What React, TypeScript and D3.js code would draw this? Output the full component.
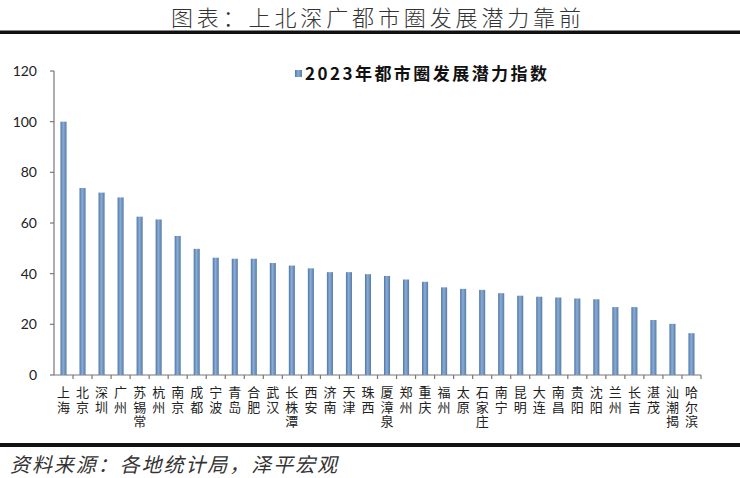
import { scaleBand, scaleLinear } from "d3";

const W = 740;
const H = 478;
const M = { top: 71, right: 39, bottom: 103, left: 54 };

const cities = [
  "上海", "北京", "深圳", "广州", "苏锡常", "杭州", "南京", "成都", "宁波", "青岛",
  "合肥", "武汉", "长株潭", "西安", "济南", "天津", "珠西", "厦漳泉", "郑州", "重庆",
  "福州", "太原", "石家庄", "南宁", "昆明", "大连", "南昌", "贵阳", "沈阳", "兰州",
  "长吉", "湛茂", "汕潮揭", "哈尔滨",
];
const potential = [
  100, 73.8, 72.0, 70.1, 62.5, 61.4, 54.9, 49.8, 46.3, 45.9,
  45.9, 44.2, 43.2, 42.1, 40.6, 40.6, 39.8, 39.1, 37.7, 36.8,
  34.6, 34.0, 33.6, 32.3, 31.3, 30.9, 30.6, 30.2, 29.9, 26.8,
  26.8, 21.7, 20.2, 16.5,
];
const yTicks = [0, 20, 40, 60, 80, 100, 120];

const title = "图表：上北深广都市圈发展潜力靠前";
const legendLabel = "2023年都市圈发展潜力指数";
const source = "资料来源：各地统计局，泽平宏观";

const CJK = '"Noto Sans CJK SC", "Noto Sans", sans-serif';

export default function App() {
  const x = scaleBand<string>().domain(cities).range([M.left, W - M.right]).paddingInner(0.68).paddingOuter(0.34);
  const y = scaleLinear().domain([0, 120]).range([H - M.bottom, M.top]);
  const base = y(0);
  const step = x.step();
  const x0 = M.left;

  return (
    <div style={{ position: "absolute", left: 0, top: 0 }}>
      <svg width={W} height={H} viewBox={`0 0 ${W} ${H}`} style={{ display: "block", background: "#fff" }}>
        <defs>
          <linearGradient id="bar" x1="0" x2="1" y1="0" y2="0">
            <stop offset="0" stopColor="#4f76a8" />
            <stop offset="0.45" stopColor="#8aacd6" />
            <stop offset="1" stopColor="#567ca6" />
          </linearGradient>
        </defs>

        <text x={376} y={26} textAnchor="middle" fontFamily={CJK} fontSize={22} fontWeight={300}
          fill="#333" textLength={410} lengthAdjust="spacing">
          {title}
        </text>
        <rect x={0} y={30.5} width={W} height={3.5} fill="#111" />

        {/* legend */}
        <rect x={295} y={70} width={7} height={7} fill="url(#bar)" />
        <text x={305} y={80} fontFamily={CJK} fontSize={17} fontWeight={700} fill="#111"
          textLength={242} lengthAdjust="spacing">
          {legendLabel}
        </text>

        {/* y axis */}
        <line x1={x0} x2={x0} y1={y(120)} y2={base} stroke="#777" strokeWidth={1.2} />
        {yTicks.map((t) => (
          <g key={`y${t}`}>
            <line x1={x0 - 4} x2={x0} y1={y(t)} y2={y(t)} stroke="#777" strokeWidth={1.2} />
            <text x={37} y={y(t)} dy="0.36em" textAnchor="end" fontFamily="Lato, sans-serif" fontSize={14} fill="#222">
              {t}
            </text>
          </g>
        ))}

        {/* x axis */}
        <line x1={x0} x2={W - M.right} y1={base} y2={base} stroke="#777" strokeWidth={1.2} />
        {cities.map((c, i) => (
          <line key={`t${c}`} x1={x0 + (i + 1) * step} x2={x0 + (i + 1) * step} y1={base} y2={base + 4}
            stroke="#777" strokeWidth={1.2} />
        ))}

        {cities.map((c, i) => (
          <rect key={c} x={x(c)} y={y(potential[i])} width={x.bandwidth()} height={base - y(potential[i])}
            fill="url(#bar)" />
        ))}

        {/* vertical city names, one column per bar */}
        {cities.map((c) => (
          <text key={`l${c}`} x={(x(c) ?? 0) + x.bandwidth() / 2} y={386} fontFamily={CJK} fontSize={13}
            fill="#222" style={{ writingMode: "vertical-rl", letterSpacing: "1.5px" }}>
            {c}
          </text>
        ))}

        <rect x={0} y={443} width={W} height={4} fill="#111" />
        <text x={10} y={472} fontFamily={CJK} fontSize={20} fontStyle="italic" fill="#333"
          textLength={327} lengthAdjust="spacing">
          {source}
        </text>
      </svg>
    </div>
  );
}
